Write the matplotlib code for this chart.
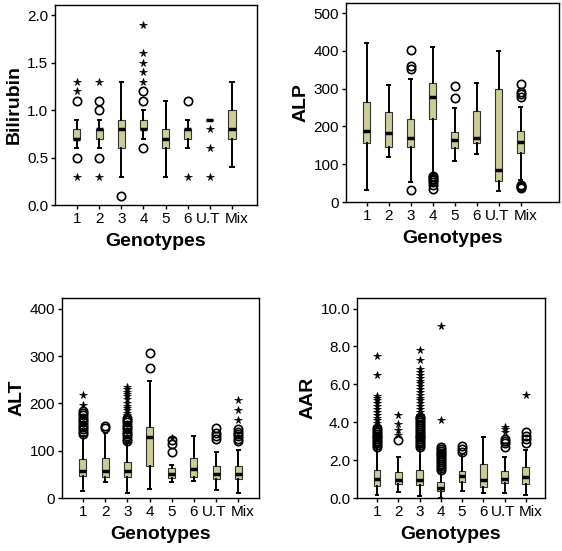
import matplotlib
matplotlib.use("Agg")
import matplotlib.pyplot as plt

plt.rcParams['font.family'] = ['Liberation Sans', 'DejaVu Sans']

genotypes = ["1", "2", "3", "4", "5", "6", "U.T", "Mix"]

# box stats per genotype: whislo, q1, med, q3, whishi
bili_stats = [
    (0.6, 0.7, 0.7, 0.8, 0.9),
    (0.6, 0.7, 0.8, 0.8, 0.9),
    (0.3, 0.6, 0.8, 0.9, 1.3),
    (0.7, 0.8, 0.8, 0.9, 1.0),
    (0.3, 0.6, 0.7, 0.8, 1.1),
    (0.6, 0.7, 0.8, 0.8, 0.9),
    (0.9, 0.9, 0.9, 0.9, 0.9),
    (0.4, 0.7, 0.8, 1.0, 1.3),
]
bili_out = [[0.5, 1.1], [0.5, 1.0, 1.1], [0.1], [0.6, 1.1, 1.2], [], [1.1], [], []]
bili_ext = [[0.3, 1.2, 1.3], [0.3, 1.3], [], [1.3, 1.4, 1.5, 1.6, 1.9], [], [0.3],
            [0.8, 0.6, 0.3], []]

alp_stats = [
    (31, 155, 187, 265, 420),
    (118, 146, 183, 239, 310),
    (52, 146, 170, 219, 325),
    (75, 219, 277, 316, 410),
    (108, 143, 164, 186, 250),
    (127, 155, 170, 242, 316),
    (28, 55, 84, 298, 400),
    (58, 131, 159, 188, 252),
]
alp_out = [[], [], [31, 352, 360, 402], [35, 45, 52, 58, 62, 65, 68], [276, 308], [],
           [], [36, 40, 43, 45, 278, 285, 290, 312]]
alp_ext = [[], [], [], [], [], [], [], []]

alt_stats = [
    (14, 46, 57, 82, 130),
    (34, 44, 56, 85, 137),
    (10, 44, 56, 76, 118),
    (20, 67, 128, 149, 248),
    (34, 42, 51, 63, 70),
    (35, 44, 61, 85, 130),
    (16, 40, 51, 67, 98),
    (10, 40, 51, 68, 102),
]
alt_out = [[135, 140, 145, 150, 155, 160, 165, 170, 175, 180, 183],
           [147, 152],
           [120, 125, 130, 135, 140, 145, 150, 155, 160, 165, 170],
           [274, 307],
           [97, 115, 123],
           [],
           [125, 130, 138, 148],
           [120, 125, 130, 135, 140, 145]]
alt_ext = [[197, 218], [], [175, 180, 185, 190, 195, 200, 210, 215, 220, 225, 230, 235],
           [], [127], [], [], [165, 187, 208]]

aar_stats = [
    (0.14, 0.65, 1.0, 1.5, 2.7),
    (0.3, 0.74, 0.97, 1.35, 2.17),
    (0.1, 0.69, 0.97, 1.5, 2.7),
    (0.0, 0.35, 0.53, 0.86, 1.5),
    (0.35, 0.85, 1.15, 1.45, 2.3),
    (0.26, 0.58, 0.93, 1.8, 3.2),
    (0.26, 0.8, 1.0, 1.4, 2.17),
    (0.18, 0.74, 1.1, 1.62, 2.55),
]
aar_out = [[2.7, 2.8, 2.9, 3.0, 3.1, 3.2, 3.3, 3.4, 3.5, 3.6, 3.7],
           [3.05],
           [2.7, 2.8, 2.9, 3.0, 3.1, 3.2, 3.3, 3.4, 3.5, 3.6, 3.7, 3.8, 3.9, 4.0, 4.1, 4.2, 4.3],
           [1.5, 1.6, 1.7, 1.8, 1.9, 2.0, 2.1, 2.2, 2.3, 2.4, 2.5, 2.6, 2.7],
           [2.45, 2.6, 2.75],
           [],
           [2.7, 2.9, 3.0, 3.1],
           [2.9, 3.1, 3.3, 3.5]]
aar_ext = [[3.8, 3.95, 4.1, 4.25, 4.4, 4.55, 4.7, 4.85, 5.0, 5.15, 5.3, 5.4, 6.5, 7.5],
           [3.35, 3.6, 3.9, 4.4],
           [4.4, 4.55, 4.7, 4.85, 5.0, 5.15, 5.3, 5.45, 5.6, 5.75, 5.9, 6.05, 6.2, 6.35,
            6.5, 6.65, 6.8, 7.3, 7.8],
           [4.1, 9.1],
           [], [], [3.5, 3.65, 3.75], [5.45]]

panels = [
    # stats, outliers, extremes, label, ylim, yticks, ytick fmt, xlim, rect (px)
    (bili_stats, bili_out, bili_ext, "Bilirubin", 2.11, [0, 0.5, 1.0, 1.5, 2.0], "{:.1f}",
     (0.01, 9.13), (55, 5, 257, 205)),
    (alp_stats, alp_out, alp_ext, "ALP", 527, [0, 100, 200, 300, 400, 500], "{:.0f}",
     (0.06, 9.73), (346, 3, 559, 202)),
    (alt_stats, alt_out, alt_ext, "ALT", 422.6, [0, 100, 200, 300, 400], "{:.0f}",
     (0.06, 8.93), (62, 298, 259, 498)),
    (aar_stats, aar_out, aar_ext, "AAR", 10.56, [0, 2, 4, 6, 8, 10], "{:.1f}",
     (0.06, 8.9), (357, 298, 545, 498)),
]

# horizontal nudge (points) for each x label, the last two are crowded
label_shift = [0, 0, 0, 0, 0, 0, -1.2, 3.2]
FS = 11

W, H = 562, 551
fig = plt.figure(figsize=(W / 100, H / 100), dpi=100)

for stats, outs, exts, label, ytop, yticks, fmt, xlim, (l, t, r, b) in panels:
    ax = fig.add_axes([l / W, 1 - b / H, (r - l) / W, (b - t) / H])
    bxp_data = []
    for (lo, q1, med, q3, hi), fl in zip(stats, outs):
        bxp_data.append(dict(whislo=lo, q1=q1, med=med, q3=q3, whishi=hi, fliers=fl))
    pos = list(range(1, len(genotypes) + 1))
    ax.bxp(bxp_data, positions=pos, widths=0.32, patch_artist=True, capwidths=0.14,
           boxprops=dict(facecolor="#CCCC99", edgecolor="#333333", linewidth=0.8),
           medianprops=dict(color="black", linewidth=2.5),
           whiskerprops=dict(color="black", linewidth=1.4),
           capprops=dict(color="black", linewidth=1.4),
           flierprops=dict(marker="o", markerfacecolor="none", markeredgecolor="black",
                           markersize=6, markeredgewidth=1.2))
    for p, ex in zip(pos, exts):
        if ex:
            ax.plot([p] * len(ex), ex, linestyle="None", marker="*", color="black",
                    markersize=5.5, markeredgewidth=0.5)
    ax.set_xlim(*xlim)
    ax.set_ylim(0, ytop)
    ax.set_xticks(pos)
    ax.set_xticklabels([])
    for p, g, dx in zip(pos, genotypes, label_shift):
        ax.annotate(g, xy=(p, 0), xycoords=ax.get_xaxis_transform(),
                    xytext=(dx, -5), textcoords="offset points",
                    ha="center", va="top", fontsize=FS)
    ax.set_yticks(yticks)
    ax.set_yticklabels([fmt.format(v) for v in yticks], fontsize=FS)
    ax.tick_params(direction="out", length=3, width=1, pad=2)
    ax.set_xlabel("Genotypes", fontsize=14, fontweight="bold", labelpad=15)
    ax.set_ylabel(label, fontsize=14, fontweight="bold", labelpad=3)
    for s in ax.spines.values():
        s.set_linewidth(1)

fig.savefig("out.png", dpi=100)
